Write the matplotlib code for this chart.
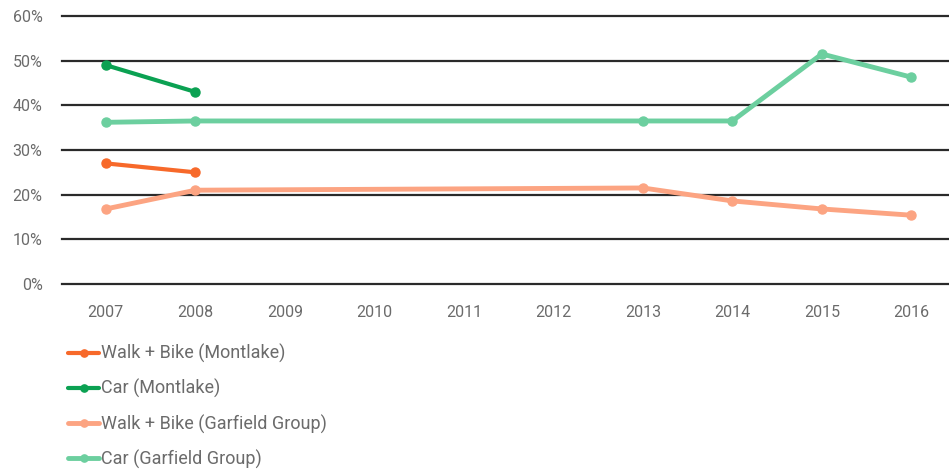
import numpy as np
import matplotlib.pyplot as plt

# --- DATA ---
years = ["2007", "2008", "2009", "2010", "2011", "2012", "2013", "2014", "2015", "2016"]
walk_montlake = [27.0, 25.0, None, None, None, None, None, None, None, None]
car_montlake = [49.0, 43.0, None, None, None, None, None, None, None, None]
walk_garfield = [16.8, 21.0, None, None, None, None, 21.5, 18.6, 16.8, 15.4]
car_garfield = [36.2, 36.5, None, None, None, None, 36.5, 36.5, 51.5, 46.3]

series = [
    ("Walk + Bike (Montlake)", walk_montlake, "#F7692A", 3.0),
    ("Car (Montlake)", car_montlake, "#0BA152", 3.0),
    ("Walk + Bike (Garfield Group)", walk_garfield, "#FCA482", 3.5),
    ("Car (Garfield Group)", car_garfield, "#6CCF9F", 3.5),
]

plt.rcParams['font.family'] = ['Roboto', 'DejaVu Sans']

fig = plt.figure(figsize=(9.49, 4.72), dpi=100)
ax = fig.add_axes([62 / 949, 1 - 284 / 472, 1 - 62 / 949, 268 / 472])

x = np.arange(len(years))
handles = []
for label, vals, color, lw in series:
    xs = [i for i, v in enumerate(vals) if v is not None]
    ys = [v for v in vals if v is not None]
    h, = ax.plot(xs, ys, color=color, lw=lw, marker="o", markersize=6.5,
                 solid_capstyle="round", label=label, zorder=3, clip_on=False)
    handles.append(h)

ax.set_ylim(0, 60)
ax.set_xlim(-0.49, 9.42)
ax.set_yticks(np.arange(0, 61, 10))
ax.set_yticklabels([f"{v}%" for v in range(0, 61, 10)])
ax.set_xticks(x)
ax.set_xticklabels(years)

for y in range(0, 61, 10):
    ax.axhline(y, color="#2a2a2a", lw=1.6, zorder=1, clip_on=False)

for s in ax.spines.values():
    s.set_visible(False)
ax.tick_params(axis="both", length=0, labelsize=11.5, labelcolor="#6b6b6b")
ax.tick_params(axis="x", pad=15)
ax.tick_params(axis="y", pad=14)

fig.legend(handles=handles, loc="upper left", bbox_to_anchor=(52 / 949, 1 - 328 / 472),
           frameon=False, fontsize=13, labelcolor="#6b6b6b", handlelength=1.7,
           handletextpad=0.1, labelspacing=0.88, markerscale=0.8)

fig.savefig("out.png", dpi=100)
